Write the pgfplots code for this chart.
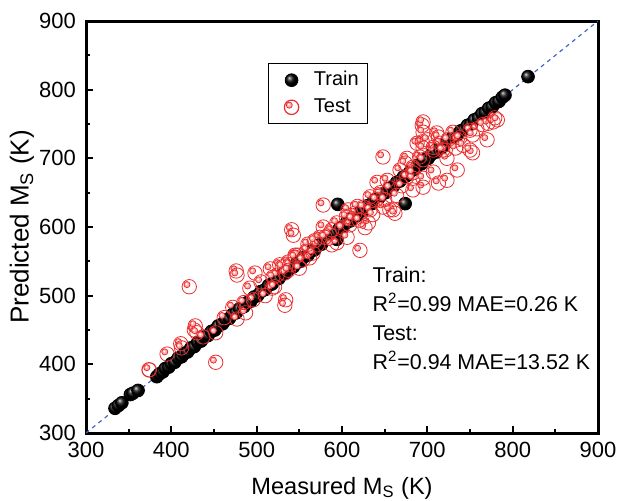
\documentclass[border=0pt]{standalone}
\usepackage{fontspec}
\setmainfont{Liberation Sans}
\usepackage{pgfplots}
\pgfplotsset{compat=1.18}
\usetikzlibrary{plotmarks}
\definecolor{testred}{RGB}{235,45,45}
\definecolor{diagblue}{RGB}{70,100,200}
\pgfdeclareplotmark{testmark}{%
  \pgfpathcircle{\pgfpointorigin}{\pgfplotmarksize}\pgfusepathqstroke
  \pgfpathcircle{\pgfpoint{-0.32\pgfplotmarksize}{0.3\pgfplotmarksize}}{0.42\pgfplotmarksize}%
  \pgfsetfillcolor{testred!35}\pgfsetlinewidth{0.4pt}\pgfusepathqfillstroke
  \pgfpathcircle{\pgfpoint{-0.38\pgfplotmarksize}{0.36\pgfplotmarksize}}{0.15\pgfplotmarksize}%
  \pgfsetfillcolor{white}\pgfusepathqfill
}
\pgfplotsset{wideleg/.style={legend image code/.code={\path (0pt,0pt) (18pt,0pt); \draw[##1] plot coordinates {(9pt,0pt)};}}}
\begin{document}
\begin{tikzpicture}
\useasboundingbox (-43pt,-33.5pt) rectangle (266.5pt,216.5pt);
\begin{axis}[
  at={(0,0)}, anchor=south west,
  scale only axis, width=256pt, height=206pt,
  xmin=300, xmax=900, ymin=300, ymax=900,
  xtick={300,400,...,900}, ytick={300,400,...,900},
  minor x tick num=1, minor y tick num=1,
  xtick pos=left, ytick pos=left,
  tick align=inside,
  major tick length=3.5pt, minor tick length=2pt,
  axis line style={line width=1.5pt},
  every tick/.style={black, line width=1pt},
  /pgf/number format/assume math mode=true,
  /pgf/number format/1000 sep={},
  tick label style={font=\fontsize{11}{13}\selectfont},
  xticklabel style={yshift=-1pt},
  yticklabel style={xshift=-1.5pt},
  xlabel={Measured M\textsubscript{S} (K)},
  ylabel={Predicted M\textsubscript{S} (K)},
  xlabel style={font=\fontsize{11.8}{13}\selectfont, at={(axis description cs:0.5,-0.1335)}, anchor=center},
  ylabel style={font=\fontsize{13}{14}\selectfont, at={(axis description cs:-0.125,0.5)}, anchor=center, rotate=0},
  legend style={at={(axis description cs:0.355,0.898)}, anchor=north west,
    draw=black, line width=0.4pt, font=\fontsize{10}{12}\selectfont,
    inner xsep=2.5pt, inner ysep=2pt, row sep=1pt, legend cell align=left},
  clip=true,
]
\addplot[diagblue, line width=0.6pt, dash pattern=on 2pt off 2pt, forget plot] coordinates {(300,300) (900,900)};
\addplot[only marks, mark=ball, ball color=black, mark size=3.2pt, wideleg] coordinates {
(334,336)(338,340)(342,344)(352,356)(355,358)(361,362)
(383,382)(386,386)(390,389)(393,394)(397,396)(400,401)(404,403)(408,409)(412,411)(415,416)
(419,418)(423,424)(427,426)(431,432)(435,434)(439,440)(443,442)(447,448)(451,450)(455,456)
(460,459)(464,465)(468,467)(472,473)(476,475)(480,481)(485,484)(489,490)(493,492)(497,498)
(501,500)(505,506)(510,509)(514,515)(518,517)(522,523)(526,525)(530,531)(535,534)(539,540)
(543,542)(547,548)(551,550)(555,556)(560,559)(564,565)(568,567)(572,573)(576,575)(580,581)
(585,584)(589,590)(594,582)(593,592)(597,598)(601,600)(605,606)(610,609)(614,615)(618,617)
(622,623)(626,625)(630,631)(635,634)(639,640)(643,642)(647,648)(651,650)(655,656)(660,659)
(664,665)(668,667)(672,673)(676,675)(680,681)(685,684)(689,690)(693,692)(697,698)(701,700)
(705,706)(710,709)(714,715)(718,717)(722,723)(726,725)(730,731)(735,734)(739,740)(743,742)
(747,748)(751,750)(755,756)(760,759)(764,765)(768,767)(772,773)(776,775)(780,781)(784,783)
(788,789)(791,792)(818,819)(595,633)(674,634)
};
\addlegendentry{Train}
\addplot[only marks, mark=testmark, testred, mark size=3.6pt, mark options={line width=0.6pt}, wideleg] coordinates {
(374,392)(395,415)(411,430)(412,424)(421,513)(427,450)(428,456)(430,446)(437,440)(452,446)
(452,403)(472,483)(477,466)(487,475)(476,536)(477,530)(492,511)(496,494)(498,533)(516,539)
(518,511)(524,530)(527,545)(533,533)(534,494)(533,486)(537,549)(545,559)(541,596)(543,588)
(519,527)(521,513)(530,542)(539,545)(548,559)(559,566)(562,555)(571,574)(578,600)(574,585)
(578,632)(588,596)(594,606)(600,599)(607,625)(615,620)(625,629)(633,625)(633,644)(645,650)
(641,665)(653,668)(656,657)(668,683)(683,671)(683,687)(631,606)(627,599)(609,603)(606,585)
(594,577)(588,574)(566,562)(554,552)(545,556)(537,537)(621,566)(660,625)(648,629)(656,625)
(662,620)(683,654)(695,658)(648,702)(676,700)(674,693)(688,722)(691,702)(695,698)(676,673)
(683,679)(695,671)(707,680)(713,664)(723,668)(735,683)(707,712)(721,712)(735,727)(733,715)
(723,700)(753,708)(694,748)(695,753)(694,724)(711,737)(713,731)(771,751)(779,759)(758,743)
(770,727)(777,753)(782,756)(765,749)(750,741)(753,734)(730,738)(738,730)(742,719)(750,712)
(695,738)(715,722)(707,716)(718,712)(724,727)(700,727)(695,715)
(612,612)(618,630)(640,640)(650,640)(664,646)(670,660)(605,615)(620,610)(636,618)(585,590)
(560,575)(568,580)(550,540)(580,585)(462,468)(505,520)(510,500)(485,490)
};
\addlegendentry{Test}
\node[anchor=north west, align=left, inner sep=0pt, font=\fontsize{10.7}{14.5}\selectfont]
  at (axis description cs:0.559,0.403)
  {Train:\\R\textsuperscript{2}=0.99 MAE=0.26 K\\Test:\\R\textsuperscript{2}=0.94 MAE=13.52 K};
\end{axis}
\end{tikzpicture}
\end{document}
